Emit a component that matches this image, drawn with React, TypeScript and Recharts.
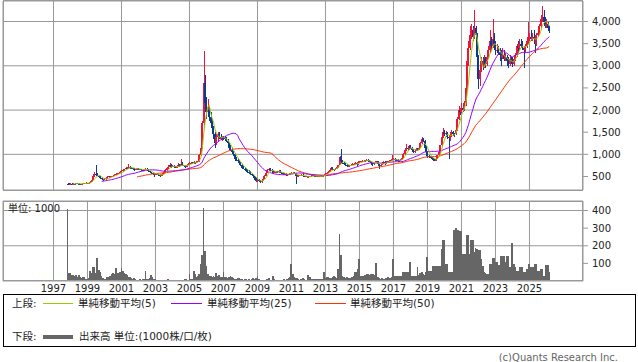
import React from "react";
import { ComposedChart, Bar, Line, XAxis, YAxis, CartesianGrid } from "recharts";

// monthly candles from Oct 1997 to Feb 2026: [open, high, low, close]
const START = 1997 + 10 / 12;
const OHLC: number[][] = [
  // 1997 (Oct-Dec)
  [340,350,320,330],[330,345,315,320],[320,350,315,340],
  // 1998
  [340,350,325,335],[335,350,330,340],[340,345,320,330],[330,350,325,345],[345,350,330,340],[340,345,325,335],[335,340,320,330],[330,345,320,340],[340,350,330,345],[345,360,335,350],[350,365,340,355],[355,360,335,345],
  // 1999
  [345,370,340,360],[360,400,350,380],[380,450,370,430],[430,520,420,500],[500,600,480,560],[560,760,530,540],[540,580,500,520],[520,540,480,500],[500,510,450,470],[470,480,420,440],[440,450,400,420],[420,460,410,440],
  // 2000
  [440,480,430,460],[460,500,450,480],[480,520,470,500],[500,510,470,490],[490,520,480,500],[500,540,490,520],[520,560,510,540],[540,580,530,560],[560,590,540,560],[560,600,550,580],[580,620,570,600],[600,640,590,620],
  // 2001
  [620,660,610,640],[640,680,630,660],[660,720,650,700],[700,720,670,690],[690,790,680,720],[720,740,690,700],[700,720,680,690],[690,700,660,680],[680,690,630,660],[660,690,650,670],[670,700,660,680],[680,690,650,670],
  // 2002
  [670,680,640,660],[660,670,630,650],[650,660,620,640],[640,680,630,660],[660,700,650,680],[680,690,640,660],[660,670,610,620],[620,630,580,600],[600,610,560,580],[580,590,540,560],[560,570,480,540],[540,570,530,560],
  // 2003
  [560,580,530,550],[550,560,520,540],[540,550,490,520],[520,540,500,530],[530,570,520,560],[560,610,550,600],[600,660,590,640],[640,720,630,700],[700,760,680,720],[720,800,710,760],[760,780,700,720],[720,760,710,740],
  // 2004
  [740,760,700,720],[720,740,690,700],[700,750,690,730],[730,800,720,760],[760,780,720,740],[740,900,730,780],[780,820,740,750],[750,770,710,730],[730,750,700,720],[720,780,710,760],[760,810,750,790],[790,830,780,800],
  // 2005
  [800,830,790,810],[810,820,780,800],[800,840,790,820],[820,830,790,810],[810,850,800,830],[830,860,820,840],[840,1000,830,980],[980,1200,960,1150],[1150,1750,1120,1700],[1700,3340,1650,2600],[2600,2800,2050,2150],[2150,2300,1800,1950],
  // 2006
  [1950,2250,1850,2000],[2000,2100,1750,1850],[1850,1950,1650,1700],[1700,1800,1550,1600],[1600,1650,1350,1450],[1450,1500,1150,1250],[1250,1450,1200,1400],[1400,1500,1300,1450],[1450,1500,1350,1400],[1400,1460,1320,1350],[1350,1420,1300,1380],[1380,1420,1320,1360],
  // 2007
  [1360,1420,1300,1350],[1350,1400,1280,1300],[1300,1350,1200,1250],[1250,1280,1120,1150],[1150,1200,1080,1100],[1100,1150,1020,1050],[1050,1080,960,1000],[1000,1020,850,900],[900,940,850,880],[880,920,820,850],[850,870,770,800],[800,830,740,760],
  // 2008
  [760,780,680,700],[700,740,660,680],[680,720,620,650],[650,700,620,640],[640,660,580,600],[600,640,560,580],[580,620,540,560],[560,580,520,540],[540,560,470,500],[500,520,400,430],[430,460,380,400],[400,440,380,420],
  // 2009
  [420,440,370,400],[400,420,360,380],[380,420,360,400],[400,470,390,450],[450,540,440,520],[520,600,510,580],[580,660,570,640],[640,700,620,680],[680,700,630,650],[650,670,600,620],[620,640,560,580],[580,620,570,600],
  // 2010
  [600,630,590,610],[610,620,580,600],[600,640,590,620],[620,640,590,600],[600,610,550,570],[570,590,540,560],[560,580,540,560],[560,570,520,540],[540,560,520,550],[550,570,540,560],[560,590,550,570],[570,600,560,580],
  // 2011
  [580,600,570,580],[580,600,560,570],[570,580,340,500],[500,530,480,520],[520,540,500,520],[520,540,510,530],[530,560,520,540],[540,550,490,510],[510,520,480,500],[500,520,490,500],[500,510,470,480],[480,500,470,490],
  // 2012
  [490,510,480,500],[500,530,490,520],[520,540,510,530],[530,540,500,520],[520,530,480,500],[500,510,480,500],[500,520,490,510],[510,520,500,510],[510,520,490,510],[510,530,500,520],[520,540,510,530],[530,570,520,560],
  // 2013
  [560,600,550,590],[590,620,580,610],[610,660,600,650],[650,720,640,700],[700,720,640,660],[660,680,620,650],[650,690,640,680],[680,730,670,720],[720,770,700,760],[760,960,750,940],[940,1110,820,850],[850,870,790,810],
  // 2014
  [810,830,760,800],[800,810,740,760],[760,780,720,740],[740,760,710,730],[730,760,720,740],[740,770,730,760],[760,800,750,780],[780,790,750,770],[770,820,760,800],[800,810,740,780],[780,840,770,820],[820,860,800,830],
  // 2015
  [830,860,820,840],[840,870,830,850],[850,880,840,860],[860,880,830,850],[850,890,840,870],[870,890,850,860],[860,880,820,850],[850,860,770,800],[800,810,740,780],[780,830,770,810],[810,850,800,830],[830,860,810,840],
  // 2016
  [840,850,760,780],[780,790,680,740],[740,790,730,770],[770,820,760,800],[800,840,790,820],[820,840,760,800],[800,840,790,830],[830,860,820,840],[840,870,830,860],[860,890,850,870],[870,980,860,880],[880,920,870,900],
  // 2017
  [900,920,860,880],[880,900,850,870],[870,890,840,860],[860,880,830,850],[850,900,840,880],[880,940,870,920],[920,1020,910,1000],[1000,1120,990,1100],[1100,1240,1080,1150],[1150,1180,1080,1120],[1120,1200,1100,1180],[1180,1200,1120,1140],
  // 2018
  [1140,1160,1080,1100],[1100,1120,1020,1060],[1060,1100,1040,1080],[1080,1140,1070,1120],[1120,1140,1080,1100],[1100,1170,1090,1150],[1150,1280,1140,1250],[1250,1390,1230,1350],[1350,1380,1280,1300],[1300,1320,1120,1150],[1150,1180,1030,1050],[1050,1070,920,960],
  // 2019
  [960,990,930,950],[950,970,910,930],[930,950,880,900],[900,920,860,880],[880,900,840,860],[860,920,850,900],[900,990,890,980],[980,1070,960,1050],[1050,1220,1040,1200],[1200,1420,1180,1400],[1400,1600,1380,1500],[1500,1560,1420,1450],
  // 2020
  [1450,1520,1420,1480],[1480,1500,1350,1400],[1400,1440,900,1380],[1380,1460,1300,1420],[1420,1540,1400,1500],[1500,1520,1420,1460],[1460,1490,1400,1450],[1450,1600,1440,1550],[1550,1850,1530,1800],[1800,2100,1780,2000],[2000,2050,1880,1950],[1950,2160,1930,2050],
  // 2021
  [2050,2100,1950,2000],[2000,2200,1980,2150],[2150,2650,2100,2500],[2500,3200,2450,3100],[3100,3550,3000,3400],[3400,3900,3350,3700],[3700,3950,3600,3800],[3800,3900,3550,3650],[3650,4270,3600,3850],[3850,3900,3550,3700],[3700,3750,3100,3200],[3200,3250,2480,2700],
  // 2022
  [2700,3000,2550,2900],[2900,3200,2850,3100],[3100,3200,2900,3000],[3000,3250,2950,3150],[3150,3200,2950,3050],[3050,3300,3000,3200],[3200,3450,3150,3350],[3350,3800,3300,3550],[3550,3650,3350,3450],[3450,4050,3400,3600],[3600,3750,3450,3500],[3500,3550,3250,3350],
  // 2023
  [3350,3500,3300,3350],[3350,3450,3250,3300],[3300,3400,3100,3250],[3250,3350,3000,3200],[3200,3400,3150,3250],[3250,3350,3100,3150],[3150,3300,3100,3200],[3200,3250,3000,3100],[3100,3200,2950,3050],[3050,3250,3000,3150],[3150,3200,3050,3100],[3100,3200,2980,3050],
  // 2024
  [3050,3200,3000,3150],[3150,3300,3100,3250],[3250,3500,3200,3450],[3450,3550,3300,3400],[3400,3600,3350,3500],[3500,3600,3400,3450],[3450,3550,3350,3400],[3400,3450,2950,3350],[3350,3500,3300,3450],[3450,3650,3400,3550],[3550,4000,3500,3600],[3600,3750,3550,3650],
  // 2025
  [3650,3800,3550,3600],[3600,3750,3550,3650],[3650,3800,3500,3600],[3600,3650,3300,3500],[3500,3750,3450,3700],[3700,3850,3650,3750],[3750,3950,3700,3900],[3900,4150,3850,4050],[4050,4340,4000,4100],[4100,4250,3950,4000],[4000,4100,3850,3900],[3900,4050,3850,3950],
  // 2026 (Jan-Feb)
  [3950,4000,3800,3850],[3850,3900,3750,3780],
];

// monthly volume, unit 1000
const VOLUME: number[] = [
  408,43,43,
  36,36,30,36,25,36,22,17,20,20,10,10,
  15,58,45,81,81,45,132,62,49,30,15,12,
  12,20,25,28,40,45,40,75,45,45,49,75,
  55,45,40,32,25,20,15,12,15,10,8,8,
  12,8,12,10,55,10,10,15,36,25,10,12,
  5,4,6,4,5,3,8,6,10,4,5,8,
  5,6,4,6,8,5,6,8,12,10,8,42,
  12,10,58,40,25,30,40,96,149,413,172,87,
  40,30,28,25,28,20,45,30,35,25,20,49,
  25,20,18,22,30,20,15,12,10,15,15,12,
  10,8,12,10,8,10,8,10,15,12,18,30,
  12,8,6,8,5,6,10,18,8,6,30,10,
  6,5,4,6,5,8,10,8,10,15,20,96,
  40,20,18,15,10,8,12,15,10,8,6,36,
  20,12,10,10,12,10,11,12,10,12,49,15,
  25,20,18,15,25,30,20,15,68,268,147,30,
  25,17,20,15,18,15,20,30,53,53,68,125,
  30,30,30,36,40,38,36,40,40,40,36,104,
  20,15,12,15,11,12,15,20,15,18,20,125,
  30,30,30,30,30,30,53,53,53,53,53,109,
  30,30,30,30,81,36,45,49,40,36,49,138,
  58,58,58,87,87,87,87,87,87,181,232,232,
  96,96,49,49,49,49,290,300,289,289,285,285,
  153,153,153,260,260,153,232,232,162,187,180,175,
  175,125,87,49,45,42,40,96,96,130,130,106,
  106,92,92,143,143,143,106,143,143,77,77,213,
  96,77,58,58,77,77,77,49,49,68,68,96,
  77,77,77,96,96,55,55,68,68,30,30,92,
  92,49,
];

const YEAR_TICKS = [1997, 1999, 2001, 2003, 2005, 2007, 2009, 2011, 2013, 2015, 2017, 2019, 2021, 2023, 2025];
const PRICE_TICKS = [500, 1000, 1500, 2000, 2500, 3000, 3500, 4000];
const VOLUME_TICKS = [100, 200, 300, 400];

const X_DOMAIN = [1994.03, 2028.15];
const UP = "#f0143c";
const DOWN = "#0a3c96";
const GRID = "#999";

const closes = OHLC.map((r) => r[3]);
const sma = (n: number) =>
  closes.map((_, i) => {
    if (i < n - 1) return null;
    let s = 0;
    for (let j = i - n + 1; j <= i; j++) s += closes[j];
    return s / n;
  });
const ma5 = sma(5);
const ma25 = sma(25);
const ma50 = sma(50);

const rows = OHLC.map(([o, h, l, c], i) => ({
  t: START + i / 12,
  o, h, l, c,
  hl: [l, h],
  ma5: ma5[i],
  ma25: ma25[i],
  ma50: ma50[i],
  v: VOLUME[i],
}));

function Candle(props: any) {
  const { x, y, width, height, payload } = props;
  if (x == null || y == null || !payload) return null;
  const { o, h, l, c } = payload;
  const cx = Math.round(x + width / 2);
  const top = Math.min(y, y + height);
  const span = Math.abs(height);
  const k = h > l ? span / (h - l) : 0;
  const bTop = top + (h - Math.max(o, c)) * k;
  const bBot = top + (h - Math.min(o, c)) * k;
  const color = c >= o ? UP : DOWN;
  return (
    <g shapeRendering="crispEdges">
      <rect x={cx} y={top} width={1} height={Math.max(1, span)} fill={color} />
      <rect x={cx - 1} y={bTop} width={2} height={Math.max(1, bBot - bTop)} fill={color} />
    </g>
  );
}

function VolBar(props: any) {
  const { x, y, width, height } = props;
  if (x == null || y == null) return null;
  const cx = x + width / 2;
  return (
    <rect
      x={cx - 0.9}
      y={Math.min(y, y + height)}
      width={1.8}
      height={Math.abs(height)}
      fill="#666"
      shapeRendering="crispEdges"
    />
  );
}

const fmt = (v: number) => v.toLocaleString("en-US");
const axisTick = { fontSize: 10, fill: "#222" };

export default function App() {
  return (
    <div
      style={{
        position: "absolute",
        left: 0,
        top: 0,
        width: 638,
        height: 362,
        background: "#fff",
        overflow: "hidden",
        fontFamily: '"DejaVu Sans", "Noto Sans CJK JP", sans-serif',
        color: "#222",
      }}
    >
      {/* price */}
      <div style={{ position: "absolute", left: 0, top: 0 }}>
        <ComposedChart width={638} height={192} data={rows} margin={{ top: 1, right: 0, bottom: 2, left: 3 }}>
          <CartesianGrid stroke={GRID} />
          <XAxis type="number" dataKey="t" domain={X_DOMAIN} ticks={YEAR_TICKS} allowDataOverflow hide />
          <YAxis
            orientation="right"
            width={55}
            domain={[195, 4463]}
            ticks={PRICE_TICKS}
            allowDataOverflow
            axisLine={false}
            tickLine={{ stroke: GRID }}
            tickSize={5}
            tickMargin={4}
            tick={axisTick}
            tickFormatter={fmt}
          />
          <Bar dataKey="hl" shape={Candle} barSize={2} isAnimationActive={false} />
          <Line dataKey="ma50" stroke="#ff3300" strokeWidth={1} dot={false} isAnimationActive={false} />
          <Line dataKey="ma25" stroke="#9900ff" strokeWidth={1} dot={false} isAnimationActive={false} />
          <Line dataKey="ma5" stroke="#99cc00" strokeWidth={1} dot={false} isAnimationActive={false} />
        </ComposedChart>
      </div>
      <div style={{ position: "absolute", left: 3, top: 0, width: 580, height: 191, border: `1px solid ${GRID}`, boxSizing: "border-box", pointerEvents: "none" }} />

      {/* volume */}
      <div style={{ position: "absolute", left: 0, top: 195 }}>
        <ComposedChart width={638} height={102} data={rows} margin={{ top: 6, right: 0, bottom: 0, left: 3 }}>
          <CartesianGrid stroke={GRID} />
          <XAxis
            type="number"
            dataKey="t"
            domain={X_DOMAIN}
            ticks={YEAR_TICKS}
            allowDataOverflow
            height={16}
            interval={0}
            axisLine={false}
            tickLine={false}
            tickSize={0}
            tickMargin={4}
            tick={axisTick}
          />
          <YAxis
            orientation="right"
            width={55}
            domain={[0, 454]}
            ticks={VOLUME_TICKS}
            allowDataOverflow
            axisLine={false}
            tickLine={{ stroke: GRID }}
            tickSize={5}
            tickMargin={4}
            tick={axisTick}
          />
          <Bar dataKey="v" shape={VolBar} barSize={2} isAnimationActive={false} />
        </ComposedChart>
      </div>
      <div style={{ position: "absolute", left: 3, top: 201, width: 580, height: 80, border: `1px solid ${GRID}`, boxSizing: "border-box", pointerEvents: "none" }} />
      <div style={{ position: "absolute", left: 8, top: 203, fontSize: 10, lineHeight: "12px" }}>単位: 1000</div>

      {/* legend */}
      <div style={{ position: "absolute", left: 3, top: 294, width: 633, height: 53, border: "1px solid #000", boxSizing: "border-box" }} />
      <div style={{ position: "absolute", left: 12, top: 297, fontSize: 10.5, lineHeight: "13px" }}>上段:</div>
      <div style={{ position: "absolute", left: 43, top: 303, width: 30, height: 1, background: "#99cc00" }} />
      <div style={{ position: "absolute", left: 78, top: 297, fontSize: 10.5, lineHeight: "13px" }}>単純移動平均(5)</div>
      <div style={{ position: "absolute", left: 171, top: 303, width: 31, height: 1, background: "#9900ff" }} />
      <div style={{ position: "absolute", left: 207, top: 297, fontSize: 10.5, lineHeight: "13px" }}>単純移動平均(25)</div>
      <div style={{ position: "absolute", left: 315, top: 303, width: 31, height: 1, background: "#ff3300" }} />
      <div style={{ position: "absolute", left: 350, top: 297, fontSize: 10.5, lineHeight: "13px" }}>単純移動平均(50)</div>
      <div style={{ position: "absolute", left: 12, top: 330, fontSize: 10.5, lineHeight: "13px" }}>下段:</div>
      <div style={{ position: "absolute", left: 43, top: 335, width: 30, height: 4, background: "#666" }} />
      <div style={{ position: "absolute", left: 79, top: 330, fontSize: 10.5, lineHeight: "13px" }}>出来高 単位:(1000株/口/枚)</div>

      <div style={{ position: "absolute", right: 20, top: 351, fontSize: 10, lineHeight: "13px", color: "#666" }}>(c)Quants Research Inc.</div>
    </div>
  );
}
